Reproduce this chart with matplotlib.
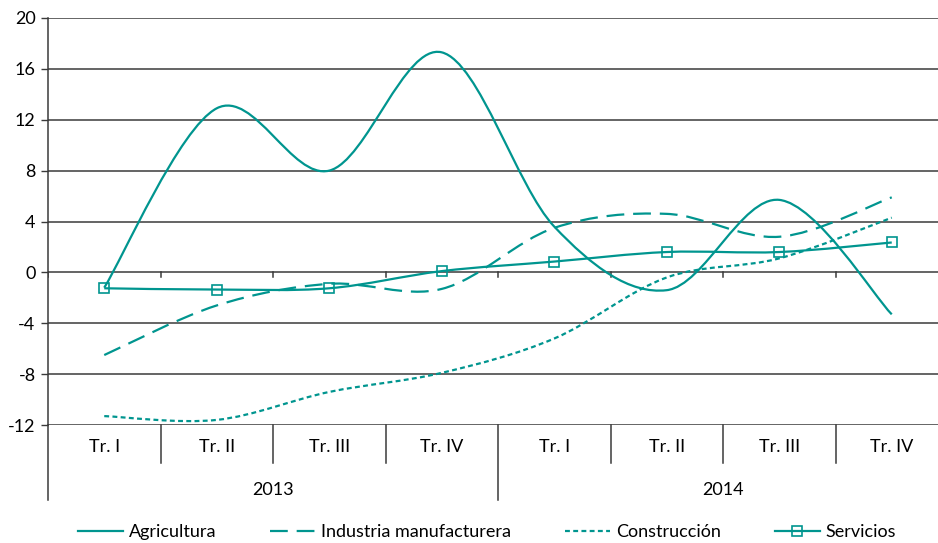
import numpy as np
import matplotlib.pyplot as plt
from matplotlib.path import Path
from matplotlib.patches import PathPatch
from matplotlib.lines import Line2D

plt.rcParams['font.family'] = ['Lato', 'DejaVu Sans']
plt.rcParams['axes.unicode_minus'] = False

trimestres = ["Tr. I", "Tr. II", "Tr. III", "Tr. IV", "Tr. I", "Tr. II", "Tr. III", "Tr. IV"]
anios = ["2013", "2014"]

agricultura = [-1.2, 12.9, 8.0, 17.3, 3.6, -1.4, 5.7, -3.3]
industria = [-6.5, -2.6, -0.9, -1.3, 3.5, 4.6, 2.8, 5.9]
construccion = [-11.3, -11.6, -9.4, -7.9, -5.2, -0.4, 1.1, 4.3]
servicios = [-1.25, -1.35, -1.25, 0.1, 0.85, 1.6, 1.6, 2.35]

color = '#00958F'
gris = '#3a3a3a'
fs = 13


def curva_suave(x, y):
    # curva tipo Excel (Bezier cubica con tangentes Catmull-Rom)
    x = np.asarray(x, float)
    y = np.asarray(y, float)
    pts = np.column_stack([x, y])
    verts = [pts[0]]
    codes = [Path.MOVETO]
    n = len(pts)
    for i in range(n - 1):
        p0 = pts[max(i - 1, 0)]
        p1 = pts[i]
        p2 = pts[i + 1]
        p3 = pts[min(i + 2, n - 1)]
        c1 = p1 + (p2 - p0) / 6
        c2 = p2 - (p3 - p1) / 6
        verts += [c1, c2, p2]
        codes += [Path.CURVE4] * 3
    return Path(verts, codes)


fig = plt.figure(figsize=(9.38, 5.43), dpi=100)
ax = fig.add_axes([48 / 938, 1 - 425 / 543, 900 / 938, 407 / 543])

x = np.arange(len(trimestres))
estilos = [
    (agricultura, '-', "Agricultura"),
    (industria, (0, (8, 4)), "Industria manufacturera"),
    (construccion, (0, (2.2, 1.5)), "Construcción"),
    (servicios, '-', "Servicios"),
]
for serie, ls, nombre in estilos:
    ax.add_patch(PathPatch(curva_suave(x, serie), fill=False, edgecolor=color,
                           lw=1.6, linestyle=ls, zorder=3))
ax.plot(x, servicios, linestyle='none', marker='s', ms=7, mfc='none',
        mec=color, mew=1.2, zorder=4)

ax.set_xlim(-0.5, len(trimestres) - 0.5)
ax.set_ylim(-12, 20)
ax.set_yticks(np.arange(-12, 21, 4))
ax.tick_params(axis='y', direction='out', length=5, width=1, color=gris,
               labelsize=fs, pad=4)
ax.set_xticks([])
for v in np.arange(-12, 21, 4):
    ax.axhline(v, color=gris, lw=1.1, zorder=1)
for s in ['top', 'right', 'bottom']:
    ax.spines[s].set_visible(False)
ax.spines['left'].set_color(gris)
ax.spines['left'].set_linewidth(1.1)

# marcas en la linea de cero
for b in np.arange(-0.5, len(trimestres), 1):
    ax.plot([b, b], [0, -0.4], color=gris, lw=1.1, zorder=2)

tr = ax.get_xaxis_transform()
for i, t in enumerate(trimestres):
    ax.text(i, -0.054, t, transform=tr, ha='center', va='center', fontsize=fs)
for b in np.arange(-0.5, len(trimestres), 1):
    largo = -0.184 if b in (-0.5, 3.5, 7.5) else -0.093
    ax.plot([b, b], [0, largo], transform=tr, color=gris, lw=1.1, clip_on=False)
for j, a in enumerate(anios):
    ax.text(1.5 + 4 * j, -0.16, a, transform=tr, ha='center', va='center',
            fontsize=fs)

handles = [
    Line2D([], [], color=color, lw=1.6, ls='-'),
    Line2D([], [], color=color, lw=1.6, ls=(0, (8, 4))),
    Line2D([], [], color=color, lw=1.6, ls=(0, (2.2, 1.5))),
    Line2D([], [], color=color, lw=1.6, ls='-', marker='s', ms=7, mfc='none',
           mew=1.2),
]
fig.legend(handles, [e[2] for e in estilos], loc='center',
           bbox_to_anchor=(487 / 938, 1 - 532 / 543), ncol=4, frameon=False,
           fontsize=fs, handlelength=2.5, handletextpad=0.3, columnspacing=3.0)

fig.savefig("out.png", dpi=100)
